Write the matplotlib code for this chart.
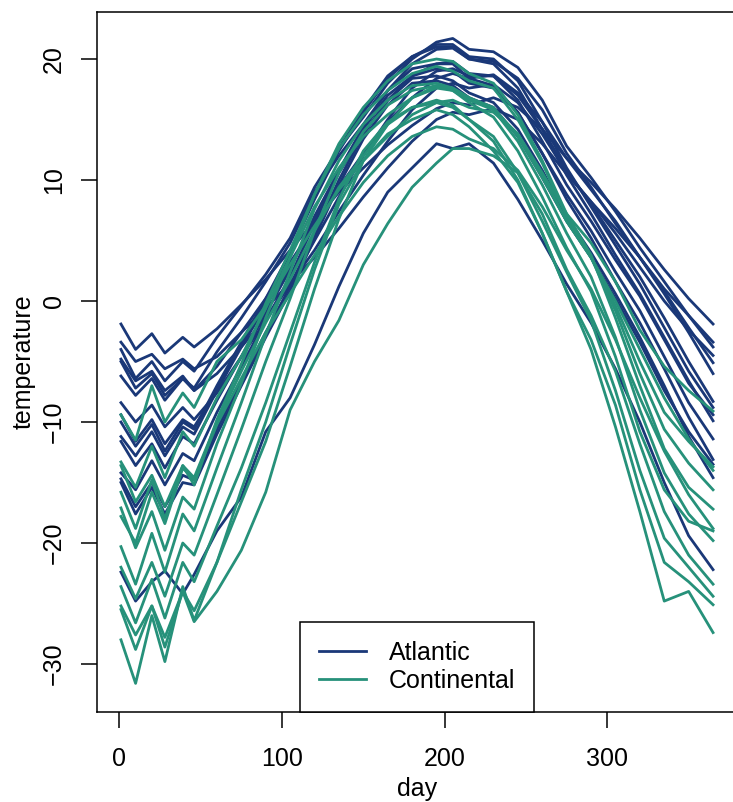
import matplotlib
matplotlib.use("Agg")
import matplotlib.pyplot as plt

days = [1, 10, 20, 28, 39, 46, 60, 75, 90, 105, 120, 135, 150, 165,
        180, 195, 205, 215, 230, 245, 260, 275, 290, 305, 320, 335, 350, 365]

# Atlantic stations
yarmouth = [-1.9, -4.0, -2.7, -4.3, -3.0, -3.8, -2.3, -0.3, 1.8, 4.2, 6.6, 9.0, 11.0, 12.9,
            14.5, 15.9, 16.4, 16.2, 16.8, 16.0, 14.2, 11.8, 9.8, 7.6, 5.2, 2.6, 0.2, -1.9]
st_johns = [-3.4, -5.0, -4.4, -5.6, -4.8, -5.6, -4.6, -2.6, -0.6, 1.5, 3.6, 6.0, 8.6, 11.0,
            13.2, 15.0, 15.6, 15.4, 15.9, 15.0, 13.0, 10.5, 8.2, 6.0, 3.6, 1.0, -1.2, -3.4]
toronto = [-4.0, -6.4, -5.0, -6.6, -5.0, -5.8, -3.0, -0.4, 2.2, 5.2, 9.4, 12.6, 15.2, 18.0,
           20.0, 21.4, 21.7, 20.8, 20.6, 19.3, 16.6, 12.8, 10.2, 7.4, 4.4, 1.6, -1.2, -3.8]
sydney = [-4.8, -6.6, -5.8, -7.4, -6.2, -7.4, -6.0, -3.8, -1.4, 1.4, 4.2, 7.4, 10.4, 13.2,
          15.8, 17.6, 18.0, 17.6, 17.9, 16.4, 13.8, 10.6, 8.2, 5.6, 2.8, 0.0, -2.4, -4.5]
halifax = [-5.0, -7.2, -6.0, -7.8, -6.4, -7.4, -5.4, -2.6, 0.2, 3.2, 6.2, 9.4, 12.2, 14.8,
           16.8, 18.4, 18.8, 18.4, 18.7, 17.2, 14.8, 11.8, 9.2, 6.6, 3.6, 0.8, -2.2, -5.1]
london = [-6.2, -7.8, -6.4, -8.2, -6.4, -7.2, -4.2, -1.4, 1.6, 4.8, 9.0, 12.0, 14.6, 17.4,
          19.6, 20.8, 20.9, 20.0, 19.8, 18.4, 15.8, 12.2, 9.4, 6.4, 3.6, 0.6, -2.6, -6.0]
charlottetown = [-8.4, -10.0, -8.6, -10.4, -8.8, -9.8, -7.6, -4.6, -1.6, 1.4, 5.0, 8.6, 12.0, 15.0,
                 17.6, 19.0, 19.2, 18.6, 18.6, 17.0, 14.2, 10.8, 8.0, 5.0, 2.0, -1.4, -5.0, -8.3]
fredericton = [-9.4, -11.6, -9.8, -11.8, -9.8, -10.4, -7.4, -3.8, -0.4, 2.8, 6.8, 10.6, 13.8, 16.6,
               18.6, 19.6, 19.8, 18.8, 18.6, 16.6, 13.2, 9.6, 6.6, 3.4, 0.4, -3.2, -6.8, -9.4]
montreal = [-10.0, -12.0, -10.2, -12.4, -10.0, -10.6, -7.0, -3.4, 0.2, 4.0, 8.4, 12.4, 15.6, 18.4,
            20.2, 21.2, 21.2, 20.2, 20.0, 18.2, 14.8, 11.0, 7.8, 4.6, 1.4, -2.2, -5.8, -8.8]
ottawa = [-11.2, -12.8, -10.8, -12.8, -10.4, -11.0, -7.4, -3.6, 0.0, 4.0, 8.6, 12.6, 15.8, 18.6,
          20.2, 21.0, 21.0, 20.0, 19.6, 17.6, 14.2, 10.4, 7.2, 3.8, 0.6, -3.0, -6.6, -9.9]
sherbrooke = [-11.6, -13.6, -11.8, -13.8, -11.2, -11.8, -8.2, -4.6, -1.0, 2.6, 7.0, 10.8, 14.2, 17.0,
              18.6, 19.2, 19.0, 18.0, 17.6, 15.6, 12.2, 8.8, 5.8, 2.4, -0.8, -4.6, -8.4, -11.4]
quebec = [-14.2, -15.6, -13.2, -15.2, -12.6, -13.2, -9.2, -5.4, -1.6, 2.0, 6.4, 10.8, 14.4, 17.4,
          19.2, 19.6, 19.6, 18.4, 17.8, 15.6, 12.2, 8.4, 5.2, 1.6, -1.8, -5.6, -9.6, -13.1]
arvida = [-14.7, -17.0, -15.0, -17.0, -14.4, -14.8, -10.6, -6.6, -2.6, 1.2, 5.6, 10.0, 13.8, 16.6,
          18.4, 18.6, 18.2, 17.2, 16.4, 14.2, 10.8, 7.0, 4.0, 0.6, -3.0, -7.0, -11.2, -14.6]
bagottville = [-15.0, -17.6, -15.4, -17.6, -15.0, -15.2, -11.0, -7.0, -3.0, 0.8, 5.2, 9.6, 13.4, 16.2,
               18.0, 18.2, 17.8, 16.8, 16.0, 13.6, 10.2, 6.6, 3.6, 0.2, -3.4, -7.4, -10.8, -13.5]
schefferville = [-22.4, -24.8, -23.2, -22.3, -24.2, -22.6, -19.0, -16.2, -10.8, -8.0, -3.6, 1.2, 5.6, 9.0,
                 11.0, 13.0, 12.6, 13.0, 11.4, 8.4, 5.0, 1.4, -1.8, -5.6, -10.0, -15.0, -19.4, -22.2]

# Continental stations
thunder_bay = [-13.6, -16.6, -14.4, -17.0, -13.6, -14.6, -10.0, -5.8, -1.8, 1.8, 5.8, 9.4, 12.0, 14.6,
               16.8, 17.8, 17.6, 16.8, 16.0, 13.6, 10.2, 6.6, 3.6, 0.0, -4.0, -8.0, -11.4, -14.0]
winnipeg = [-17.1, -20.4, -17.4, -20.6, -16.2, -17.2, -11.8, -6.8, -1.4, 3.6, 8.8, 13.0, 16.0, 18.2,
            19.6, 20.0, 19.8, 18.8, 18.0, 15.4, 11.6, 7.2, 3.8, -1.4, -7.0, -12.2, -15.4, -17.2]
the_pas = [-22.0, -24.6, -21.6, -24.4, -20.0, -21.0, -16.0, -10.6, -5.0, 0.2, 5.8, 10.6, 14.0, 16.2,
           17.4, 17.8, 17.4, 16.4, 15.2, 12.4, 8.6, 4.4, 0.8, -4.6, -10.8, -15.6, -18.2, -19.0]
churchill = [-25.2, -27.6, -25.2, -27.8, -24.0, -26.5, -24.0, -20.6, -15.8, -9.0, -5.0, -1.6, 3.0, 6.4,
             9.4, 11.4, 12.6, 12.6, 12.0, 10.6, 7.2, 2.6, -1.2, -5.8, -11.8, -17.4, -21.0, -23.4]
regina = [-15.8, -18.8, -14.8, -18.0, -13.6, -15.2, -9.8, -5.2, -0.2, 4.2, 8.8, 12.6, 15.4, 17.4,
          18.8, 19.4, 19.0, 18.2, 17.6, 15.0, 11.4, 7.0, 3.6, -0.8, -6.0, -10.6, -13.4, -15.6]
pr_albert = [-20.3, -23.4, -19.2, -22.4, -17.6, -19.0, -13.8, -8.4, -2.8, 2.4, 7.6, 11.6, 14.6, 16.6,
             17.8, 18.0, 17.6, 16.8, 15.8, 13.2, 9.6, 5.6, 2.0, -3.0, -9.0, -14.2, -17.6, -19.8]
uranium_city = [-23.6, -26.6, -23.0, -26.2, -21.6, -23.2, -18.6, -13.8, -8.4, -2.6, 3.2, 8.4, 12.4, 14.8,
                16.0, 16.4, 16.0, 15.0, 13.6, 10.6, 6.6, 2.4, -1.6, -7.4, -14.0, -19.6, -22.0, -24.4]
edmonton = [-13.3, -15.4, -12.0, -14.6, -10.8, -12.0, -8.0, -4.6, -0.6, 3.6, 7.8, 11.0, 13.6, 15.4,
            16.8, 17.6, 17.4, 16.6, 15.8, 13.8, 10.4, 6.6, 3.6, -0.4, -5.0, -9.2, -11.6, -13.7]
calgary = [-9.4, -11.5, -7.0, -10.0, -7.6, -8.8, -5.0, -3.2, -0.4, 3.0, 6.2, 9.2, 11.6, 13.6,
           15.4, 16.4, 16.6, 16.0, 15.6, 13.8, 10.6, 7.2, 4.8, 1.6, -2.4, -5.4, -7.4, -9.1]
whitehorse = [-17.8, -20.0, -15.8, -18.4, -13.8, -14.8, -10.2, -6.4, -2.6, 0.6, 3.8, 7.0, 9.8, 12.0,
              13.6, 14.4, 14.2, 13.4, 12.6, 10.8, 7.8, 4.2, 1.0, -3.2, -8.0, -12.4, -16.0, -18.8]
dawson = [-28.0, -31.6, -26.0, -29.8, -23.6, -26.4, -21.6, -15.6, -10.0, -3.6, 2.6, 8.0, 11.6, 13.8,
          15.0, 15.8, 15.4, 14.4, 12.4, 9.8, 5.6, 0.8, -4.0, -10.4, -17.4, -24.8, -24.0, -27.4]
yellowknife = [-25.5, -28.8, -25.2, -28.6, -24.0, -25.6, -21.6, -16.6, -11.6, -5.4, 1.0, 6.8, 11.6, 14.6,
               16.0, 16.6, 16.2, 15.0, 13.2, 10.0, 5.6, 0.8, -3.2, -8.6, -15.6, -21.6, -23.2, -25.1]

atlantic = [st_johns, halifax, sydney, yarmouth, charlottetown, fredericton, schefferville,
            arvida, bagottville, quebec, sherbrooke, montreal, ottawa, toronto, london]
continental = [thunder_bay, winnipeg, the_pas, churchill, regina, pr_albert, uranium_city,
               edmonton, calgary, whitehorse, dawson, yellowknife]

col_atl = "#1a3878"
col_con = "#26917a"

plt.rcParams['font.family'] = ['Liberation Sans', 'DejaVu Sans']

fig = plt.figure(figsize=(7.33, 8.02), dpi=100)
ax = fig.add_axes([0.1327, 0.1126, 0.8724, 0.8728])

for y in atlantic:
    ax.plot(days, y, color=col_atl, lw=2.0, solid_joinstyle='round')
for y in continental:
    ax.plot(days, y, color=col_con, lw=2.0, solid_joinstyle='round')

# R style 4% padding
ax.set_xlim(-13.56, 379.56)
ax.set_ylim(-33.94, 23.91)
ax.set_xticks([0, 100, 200, 300])
ax.set_yticks([-30, -20, -10, 0, 10, 20])
ax.set_yticklabels(['\u221230', '\u221220', '\u221210', '0', '10', '20'])
ax.tick_params(direction='out', length=11.5, width=1.1, labelsize=18, colors='black')
ax.tick_params(axis='x', pad=14)
ax.tick_params(axis='y', pad=11, labelrotation=90)
for lab in ax.get_yticklabels():
    lab.set_verticalalignment('center')
for sp in ax.spines.values():
    sp.set_linewidth(1.1)

ax.set_xlabel('day', fontsize=18)
ax.set_ylabel('temperature', fontsize=18)
ax.xaxis.set_label_coords(0.5, -0.093)
ax.yaxis.set_label_coords(-0.096, 0.5)

h1, = ax.plot([], [], color=col_atl, lw=2.0)
h2, = ax.plot([], [], color=col_con, lw=2.0)
leg = ax.legend([h1, h2], ['Atlantic', 'Continental'], loc='lower center',
                bbox_to_anchor=(0.5, 0.0), borderaxespad=0, fontsize=18,
                fancybox=False, framealpha=1, edgecolor='black',
                handlelength=1.9, handletextpad=0.9, labelspacing=0.15,
                borderpad=0.75)
leg.get_frame().set_linewidth(1.1)

fig.savefig('out.png', dpi=100)
